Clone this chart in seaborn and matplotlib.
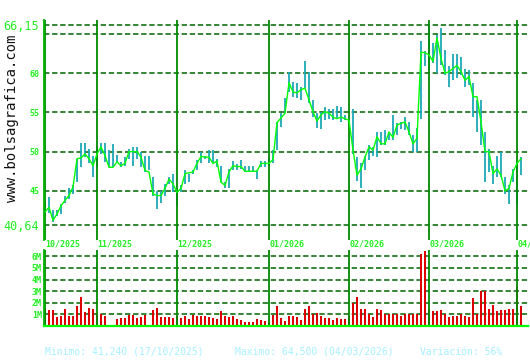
import numpy as np
import pandas as pd
import matplotlib
matplotlib.use('Agg')
import matplotlib.pyplot as plt
import seaborn as sns
from matplotlib.transforms import blended_transform_factory

sns.set_style('white')
plt.rcParams['font.family'] = ['DejaVu Sans Mono', 'DejaVu Sans']

# ---------------- data ----------------
close = [42.3, 42.9, 41.24, 42.05, 43.1, 43.8, 44.4, 45.5, 49.1, 49.2,
         49.7, 49.1, 48.2, 49.7, 50.6, 49.5, 48.0, 48.0, 48.7, 48.2,
         48.5, 50.0, 50.0, 50.0, 49.3, 47.6, 47.4, 44.6, 44.4, 44.4,
         45.3, 46.5, 45.9, 44.8, 45.3, 47.2, 47.3, 47.4, 48.5, 49.4,
         49.3, 49.3, 48.5, 48.8, 46.1, 45.7, 47.4, 48.2, 48.1, 48.1,
         47.5, 47.5, 47.5, 47.5, 48.5, 48.5, 48.5, 49.0, 53.7, 54.3,
         54.9, 58.8, 57.6, 57.5, 57.9, 58.1, 56.6, 55.1, 53.9, 54.7,
         55.1, 54.9, 54.4, 54.2, 54.4, 54.2, 54.0, 50.2, 47.0, 47.8,
         49.3, 50.6, 50.2, 51.9, 51.0, 51.0, 52.5, 51.8, 53.4, 53.6,
         53.8, 52.5, 51.0, 51.7, 62.7, 62.6, 62.35, 61.5, 64.5, 61.9,
         60.0, 60.2, 60.6, 61.0, 60.2, 59.1, 59.6, 57.0, 57.0, 53.8,
         50.0, 50.0, 47.2, 47.8, 47.0, 45.0, 45.3, 47.4, 48.5, 49.1]

high = [43.4, 44.2, 42.6, 42.5, 43.3, 44.4, 45.3, 45.7, 49.1, 51.1,
        51.1, 50.4, 49.5, 50.7, 51.1, 51.1, 50.2, 51.0, 49.6, 48.7,
        49.3, 50.4, 50.6, 50.6, 49.9, 49.5, 49.5, 46.75, 45.0, 45.0,
        45.9, 46.8, 47.1, 44.8, 45.7, 47.6, 47.2, 47.6, 48.9, 50.0,
        49.5, 50.2, 50.2, 49.1, 48.2, 46.1, 47.8, 48.8, 48.4, 48.9,
        48.2, 48.2, 48.2, 47.6, 48.8, 48.8, 49.0, 50.2, 53.8, 54.9,
        56.8, 60.2, 58.9, 58.7, 58.3, 61.5, 60.2, 56.6, 54.9, 55.1,
        55.7, 55.5, 55.5, 55.8, 55.7, 54.7, 54.2, 55.5, 49.3, 48.5,
        49.5, 50.8, 50.6, 52.5, 52.5, 52.7, 52.5, 54.7, 53.6, 53.8,
        54.4, 53.8, 52.1, 53.0, 64.1, 62.8, 66.15, 63.8, 64.9, 65.8,
        63.0, 60.9, 62.4, 62.4, 62.1, 60.6, 60.4, 58.7, 56.6, 56.6,
        52.5, 50.4, 48.2, 49.5, 50.0, 46.8, 45.7, 47.8, 48.7, 49.3]

low = [42.0, 42.2, 41.0, 41.8, 42.0, 43.5, 44.0, 44.6, 46.1, 48.0,
       49.3, 48.5, 46.8, 48.0, 49.7, 48.7, 48.0, 48.0, 48.5, 48.0,
       48.2, 49.1, 48.2, 49.1, 48.0, 47.4, 47.6, 44.4, 42.7, 43.5,
       44.4, 45.9, 44.8, 43.1, 44.8, 45.9, 46.1, 47.2, 47.6, 48.5,
       49.1, 48.5, 48.5, 48.0, 46.1, 45.4, 45.4, 47.6, 47.6, 47.8,
       47.4, 47.4, 47.4, 46.5, 48.0, 48.0, 48.2, 48.5, 50.2, 53.2,
       54.9, 57.6, 57.0, 56.8, 56.6, 58.1, 56.2, 54.4, 53.0, 52.9,
       54.0, 54.2, 54.0, 54.2, 53.8, 54.0, 53.8, 49.7, 46.3, 45.3,
       47.6, 48.9, 49.5, 49.3, 50.8, 50.8, 51.5, 51.5, 52.1, 52.9,
       52.7, 52.1, 50.0, 50.0, 54.2, 60.9, 60.4, 61.3, 60.0, 61.1,
       59.8, 58.3, 59.1, 59.4, 59.8, 58.3, 58.5, 54.4, 52.5, 50.8,
       46.1, 47.4, 45.9, 46.8, 46.8, 44.6, 43.3, 46.1, 43.3, 47.0]

volume_m = [1.55, 1.4, 1.4, 0.8, 0.9, 1.5, 0.9, 0.9, 1.7, 2.5,
            1.2, 1.55, 1.5, 1.0, 1.05, 0.9, 0.1, 0.1, 0.6, 0.7,
            0.7, 0.95, 0.95, 0.7, 0.8, 0.95, 0.1, 1.4, 1.55, 0.8,
            0.8, 0.8, 0.7, 0.9, 0.7, 0.9, 0.6, 0.95, 0.9, 0.9,
            0.9, 0.8, 0.7, 0.6, 1.3, 0.9, 0.8, 0.9, 0.6, 0.5,
            0.35, 0.35, 0.35, 0.6, 0.5, 0.45, 0.35, 0.95, 1.7, 0.7,
            0.4, 0.9, 0.9, 0.8, 0.55, 1.5, 1.7, 1.0, 1.1, 0.9,
            0.7, 0.7, 0.5, 0.7, 0.6, 0.6, 0.9, 2.0, 2.5, 1.5,
            1.45, 1.0, 0.8, 1.5, 1.35, 1.0, 1.05, 1.0, 1.05, 0.9,
            1.05, 1.05, 1.05, 1.0, 6.2, 6.5, 1.5, 1.25, 1.25, 1.35,
            1.05, 0.75, 0.9, 0.9, 1.05, 0.9, 0.75, 2.4, 1.05, 3.0,
            3.0, 1.5, 1.8, 1.25, 1.35, 1.35, 1.5, 1.5, 3.4, 1.7]

month_labels = ['10/2025', '11/2025', '12/2025', '01/2026', '02/2026', '03/2026', '04/']
month_start = [0, 13, 33, 56, 76, 96, 118]

price_ticks = [66.15, 60, 55, 50, 45, 40.64]
price_tick_labels = ['66,15', '60', '55', '50', '45', '40,64']
price_grid = [66.15, 65, 60, 55, 50, 45, 40.64]

vol_ticks = [1, 2, 3, 4, 5, 6]
vol_tick_labels = ['1M', '2M', '3M', '4M', '5M', '6M']

footer = ['Minimo: 41,240 (17/10/2025)', 'Maximo: 64,500 (04/03/2026)', 'Variación: 56%']

n = len(close)
df = pd.DataFrame({'day': np.arange(n), 'close': close, 'high': high,
                   'low': low, 'vol': volume_m})

# ---------------- style ----------------
GRID = '#006400'
MONTH = '#008a00'
SPINE = '#00b400'
LABEL = '#22ee22'
LINE = '#00ff00'
TEAL = '#1ea8b8'
RED = '#dd0000'
FOOT = '#a6f0ff'

W, H = 530, 360
fig = plt.figure(figsize=(W / 100, H / 100), dpi=100)
fig.patch.set_facecolor('white')

left_px, right_px = 44, 528
ax = fig.add_axes([left_px / W, 1 - 240 / H, (right_px - left_px) / W, 220 / H])
axv = fig.add_axes([left_px / W, 1 - 326 / H, (right_px - left_px) / W, 76 / H])

xlim = (-0.25, 120.75)

# price panel
for g in price_grid:
    ax.axhline(g, color=GRID, lw=1.1, ls=(0, (3.5, 1.8)), zorder=1)
ax.vlines(df['day'], df['low'], df['high'], color=TEAL, lw=1.3, zorder=2)
for m in month_start:
    ax.axvline(m, color=MONTH, lw=1.3, zorder=2.5)
sns.lineplot(data=df, x='day', y='close', ax=ax, color=LINE, lw=1.0, zorder=3)
ax.set_xlim(*xlim)
ax.set_ylim(38.73, 66.79)
ax.set_xticks([])
ax.set_yticks(price_ticks)
ax.set_yticklabels(price_tick_labels)
ax.tick_params(axis='y', length=0, pad=3.5)
for lbl in ax.get_yticklabels():
    t = lbl.get_text()
    lbl.set_color(LABEL)
    if ',' in t:
        lbl.set_fontsize(8.5)
    else:
        lbl.set_fontsize(6)
        lbl.set_fontweight('bold')
ax.set_xlabel('')
ax.set_ylabel('')
for s in ['top', 'right', 'bottom']:
    ax.spines[s].set_visible(False)
ax.spines['left'].set_color(SPINE)
ax.spines['left'].set_linewidth(1.3)
ax.set_facecolor('none')

trans = blended_transform_factory(ax.transData, ax.transAxes)
for m, lab in zip(month_start, month_labels):
    ax.text(m, -0.016, lab, transform=trans, ha='left', va='center',
            fontsize=6, fontweight='bold', color=LABEL, clip_on=False)

# volume panel
for g in vol_ticks:
    axv.axhline(g, color=GRID, lw=1.1, ls=(0, (3.5, 1.8)), zorder=1)
sns.barplot(data=df, x='day', y='vol', ax=axv, native_scale=True, width=0.4,
            color=RED, saturation=1, linewidth=0, zorder=2)
for m in month_start:
    axv.axvline(m, color=MONTH, lw=1.3, zorder=2.5)
axv.set_xlim(*xlim)
axv.set_ylim(0, 6.55)
axv.set_xticks([])
axv.set_yticks(vol_ticks)
axv.set_yticklabels(vol_tick_labels)
axv.tick_params(axis='y', length=0, pad=1.5)
for lbl in axv.get_yticklabels():
    lbl.set_color(LABEL)
    lbl.set_fontsize(6)
    lbl.set_fontweight('bold')
axv.set_xlabel('')
axv.set_ylabel('')
for s in ['top', 'right']:
    axv.spines[s].set_visible(False)
axv.spines['left'].set_color(SPINE)
axv.spines['left'].set_linewidth(1.3)
axv.spines['bottom'].set_color(LINE)
axv.spines['bottom'].set_linewidth(1.6)
axv.set_facecolor('none')

# watermark
fig.text(12 / W, 1 - 118 / H, 'www.bolsagrafica.com', rotation=90,
         ha='center', va='center', fontsize=10, color='#111111')

# footer
for xpx, txt in zip([45, 235, 420], footer):
    fig.text(xpx / W, 1 - 352 / H, txt, ha='left', va='center',
             fontsize=7, color=FOOT)

fig.savefig('out.png', dpi=100, facecolor='white')
